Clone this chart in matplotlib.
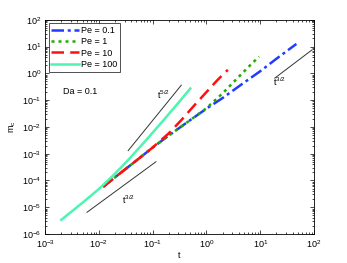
import matplotlib
matplotlib.use("Agg")
import matplotlib.pyplot as plt
from matplotlib.ticker import LogLocator, NullFormatter, FixedLocator

plt.rcParams['font.family'] = ['Liberation Sans', 'DejaVu Sans']
plt.rcParams['mathtext.fontset'] = 'custom'
plt.rcParams['mathtext.rm'] = 'Liberation Sans'
plt.rcParams['mathtext.it'] = 'Liberation Sans'
plt.rcParams['mathtext.default'] = 'regular'

# ---- data ----
labels = ["Pe = 0.1", "Pe = 1", "Pe = 10", "Pe = 100"]
x_ticks = [1e-3, 1e-2, 1e-1, 1e0, 1e1, 1e2]
y_ticks = [1e-6, 1e-5, 1e-4, 1e-3, 1e-2, 1e-1, 1e0, 1e1, 1e2]

t_pe01 = [0.012, 0.02, 0.05, 0.1, 0.2, 0.5, 1.0, 2.0, 5.0, 10.0, 20.0, 47.0]
m_pe01 = [5.8e-5, 1.32e-4, 5.6e-4, 1.7e-3, 4.8e-3, 0.018, 0.048, 0.12, 0.45, 1.2, 3.5, 12.5]

t_pe1 = [0.012, 0.02, 0.05, 0.1, 0.2, 0.5, 1.0, 2.0, 4.0, 6.5, 9.5]
m_pe1 = [5.8e-5, 1.32e-4, 5.6e-4, 1.7e-3, 4.8e-3, 0.018, 0.05, 0.18, 0.75, 2.0, 4.2]

t_pe10 = [0.012, 0.02, 0.05, 0.1, 0.2, 0.35, 0.6, 1.0, 1.6, 2.5]
m_pe10 = [5.8e-5, 1.32e-4, 5.6e-4, 1.7e-3, 5.8e-3, 0.019, 0.065, 0.2, 0.56, 1.35]

t_pe100 = [0.002, 0.005, 0.01, 0.02, 0.035, 0.07, 0.15, 0.3, 0.5]
m_pe100 = [3.4e-6, 1.5e-5, 4.8e-5, 1.8e-4, 5.8e-4, 2.7e-3, 0.0155, 0.079, 0.27]

# guide lines
ref52_t = [0.035, 0.34]
ref52_m = [1.3e-3, 0.36]
ref32a_t = [0.006, 0.115]
ref32a_m = [6.5e-6, 5.0e-4]
ref32b_t = [18.6, 91.0]
ref32b_m = [0.66, 7.4]

# ---- figure ----
fig = plt.figure(figsize=(3.47, 2.63), dpi=100)
ax = fig.add_axes([0.13, 0.11, 0.775, 0.815])

ax.plot(t_pe01, m_pe01, color='#1f3cff', lw=1.8, linestyle=(0, (5, 1.5, 1.2, 1.5)), label=labels[0])
ax.plot(t_pe1, m_pe1, color='#22aa00', lw=1.8, linestyle=(0, (1.2, 1.6)), label=labels[1])
ax.plot(t_pe10, m_pe10, color='#ff1010', lw=1.8, linestyle=(0, (5, 2.5)), label=labels[2])
ax.plot(t_pe100, m_pe100, color='#4cf5b0', lw=1.8, linestyle='-', label=labels[3])

ax.plot(ref52_t, ref52_m, color='#333333', lw=0.7)
ax.plot(ref32a_t, ref32a_m, color='#333333', lw=0.7)
ax.plot(ref32b_t, ref32b_m, color='#333333', lw=0.7)

fs = 6.5
ax.text(0.12, 0.155, r'$t^{5/2}$', fontsize=fs, ha='left', va='center')
ax.text(0.027, 1.9e-5, r'$t^{3/2}$', fontsize=fs, ha='left', va='center')
ax.text(17.0, 0.5, r'$t^{3/2}$', fontsize=fs, ha='left', va='center')
ax.text(0.065, 0.665, 'Da = 0.1', fontsize=fs, transform=ax.transAxes, ha='left', va='center')

ax.set_xscale('log')
ax.set_yscale('log')
ax.set_xlim(1e-3, 1e2)
ax.set_ylim(1e-6, 1e2)
ax.xaxis.set_major_locator(FixedLocator(x_ticks))
ax.yaxis.set_major_locator(FixedLocator(y_ticks))
ax.xaxis.set_minor_locator(LogLocator(base=10, subs=range(2, 10), numticks=50))
ax.yaxis.set_minor_locator(LogLocator(base=10, subs=range(2, 10), numticks=50))
ax.xaxis.set_minor_formatter(NullFormatter())
ax.yaxis.set_minor_formatter(NullFormatter())
ax.tick_params(which='both', direction='in', top=True, right=True, labelsize=fs, width=0.5)
ax.tick_params(which='major', length=3, pad=3)
ax.tick_params(which='minor', length=1.5)
for s in ax.spines.values():
    s.set_linewidth(0.6)

ax.set_xlabel('t', fontsize=fs, labelpad=1)
ax.set_ylabel(r'$m_c$', fontsize=fs, labelpad=3)

leg = ax.legend(loc='upper left', fontsize=fs, frameon=True, fancybox=False,
                edgecolor='black', handlelength=3.0, borderpad=0.3,
                labelspacing=0.25, handletextpad=0.3, borderaxespad=0.4)
leg.get_frame().set_linewidth(0.6)

fig.savefig('out.png', dpi=100)
